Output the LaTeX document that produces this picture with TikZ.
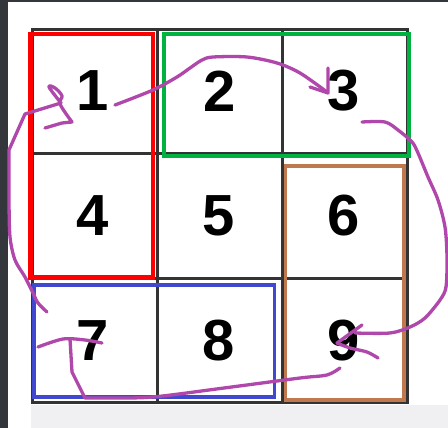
\documentclass[tikz,border=0pt]{standalone}
\usepackage{fontspec}
\setmainfont{Liberation Sans}
\definecolor{inkpurple}{RGB}{176,72,172}
\definecolor{darkstrip}{RGB}{51,55,59}
\definecolor{lightband}{RGB}{240,240,242}
\definecolor{boxred}{RGB}{255,0,0}
\definecolor{boxgreen}{RGB}{0,178,64}
\definecolor{boxblue}{RGB}{64,72,208}
\definecolor{boxbrown}{RGB}{192,120,78}
\begin{document}
\begin{tikzpicture}[x=1pt,y=-1pt,
  gridline/.style={line width=3pt, draw=black!80},
  digit/.style={font=\fontsize{58}{58}\selectfont\bfseries, inner sep=0pt, anchor=center},
  groupbox/.style={line width=4.2pt},
  ink/.style={draw=inkpurple, line width=3.3pt, line cap=round, line join=round},
]
\useasboundingbox (0,0) rectangle (448,428);
% background
\fill[white] (0,0) rectangle (448,428);
\fill[darkstrip] (0,0) rectangle (8,428);
\fill[darkstrip] (0,0) rectangle (448,2);
\fill[lightband] (31,405) rectangle (448,428);
% grid
\draw[gridline] (32,30) rectangle (407,402);
\draw[gridline] (157,30) -- (157,402);
\draw[gridline] (282,30) -- (282,402);
\draw[gridline] (32,154) -- (407,154);
\draw[gridline] (32,278) -- (407,278);
% digits
\node[digit] (n1) at (93,91) {1};
\node[digit] (n2) at (220,91) {2};
\node[digit] (n3) at (344,91) {3};
\node[digit] (n4) at (93,216) {4};
\node[digit] (n5) at (219,216) {5};
\node[digit] (n6) at (344,216) {6};
\node[digit] (n7) at (93,341) {7};
\node[digit] (n8) at (219,341) {8};
\node[digit] (n9) at (344,341) {9};
% group boxes
\draw[groupbox, draw=boxred] (30.5,34) rectangle (153,277.5);
\draw[groupbox, draw=boxgreen] (164,34) rectangle (409,156);
\draw[groupbox, draw=boxbrown, line width=3.8pt] (285.5,166) rectangle (404,400);
\draw[groupbox, draw=boxblue, line width=3.8pt] (34,285) rectangle (274.5,397);
% ink strokes
% 1 -> 3
\coordinate (a1) at (115,105);
\coordinate (a3) at (327,92);
\draw[ink] plot[smooth, tension=0.5] coordinates {(a1) (153,90) (177,77) (190,68) (202,60) (213,57) (247,57) (277,63) (300,73) (a3)};
\draw[ink] (328,68) -- (328,93) -- (310,87);
% 3 -> 9
\coordinate (b3) at (362,122);
\coordinate (b9) at (355,333);
\draw[ink] plot[smooth, tension=0.5] coordinates {(b3) (385,122) (398,130) (412,142) (418,153) (428,177) (438,200) (445,227) (447,257) (446,287) (440,300) (425,318) (410,327) (390,333) (b9)};
\draw[ink] plot[smooth, tension=0.5] coordinates {(362,325) (337,343)};
\draw[ink] plot[smooth, tension=0.5] coordinates {(337,343) (350,348) (367,352) (378,358)};
% 9 -> 7
\coordinate (c9) at (340,368);
\coordinate (c7) at (70,339);
\draw[ink] plot[smooth, tension=0.5] coordinates {(c9) (327,375) (300,378) (224,388) (153,397) (110,398) (85,398)} -- (72,372) -- (c7);
\draw[ink] plot[smooth, tension=0.5] coordinates {(102,343) (85,340) (63,339) (38,347)};
% 7 -> 1
\coordinate (d7) at (47,312);
\coordinate (d1) at (61,103);
\draw[ink] plot[smooth, tension=0.5] coordinates {(d7) (38,303) (33,293) (25,277) (15,260) (10,237) (9,200) (9,150)} -- (25,114) -- (d1);
\draw[ink] plot[smooth, tension=0.6] coordinates {(d1) (49,87) (55,88) (62,96) (60,104) (72,122)} -- (62,123) -- (45,128);
\end{tikzpicture}
\end{document}
